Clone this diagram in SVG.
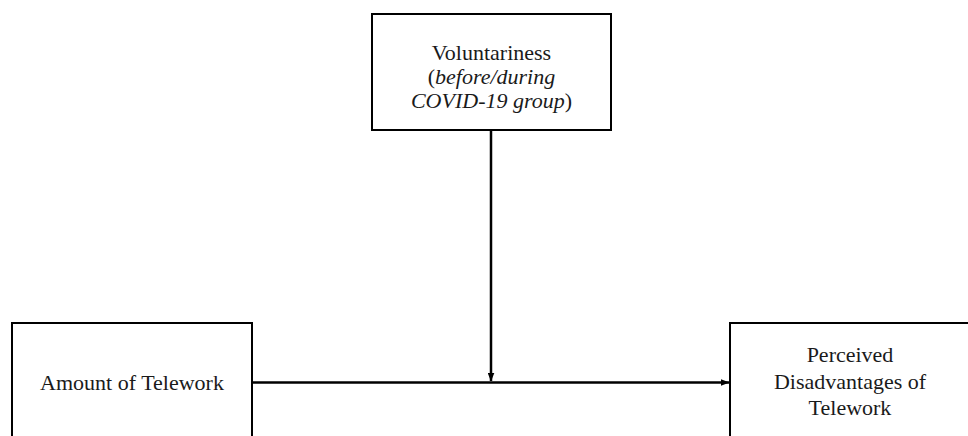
<svg xmlns="http://www.w3.org/2000/svg" width="968" height="436" viewBox="0 0 968 436">
<style>
.box{fill:#fff;stroke:#000;stroke-width:2}
.t{font-family:"Liberation Serif","Times New Roman",serif;font-size:22px;fill:#1a1a1a;text-anchor:middle}
.i{font-style:italic}
.c{stroke:#000;stroke-width:2.5;fill:none}
</style>
<defs>
<marker id="ah" markerWidth="9" markerHeight="7" refX="8.5" refY="3.5" orient="auto" markerUnits="userSpaceOnUse">
<path d="M0,0 L9,3.5 L0,7 Z" fill="#000"/>
</marker>
</defs>
<rect width="968" height="436" fill="#fff"/>
<g id="node-voluntariness">
<rect class="box" x="372" y="14" width="239" height="116"/>
<text class="t" x="491.5" y="60">Voluntariness</text>
<text class="t" x="491.5" y="84">(<tspan class="i">before/during</tspan></text>
<text class="t" x="491.5" y="108"><tspan class="i">COVID-19 group</tspan>)</text>
</g>
<g id="node-amount">
<rect class="box" x="12" y="323" width="240" height="130"/>
<text class="t" x="132" y="390">Amount of Telework</text>
</g>
<g id="node-disadvantages">
<rect class="box" x="730" y="323" width="260" height="130"/>
<text class="t" x="850" y="362">Perceived</text>
<text class="t" x="850" y="389">Disadvantages of</text>
<text class="t" x="850" y="415">Telework</text>
</g>
<g id="connectors">
<line class="c" x1="252" y1="382.5" x2="729" y2="382.5" marker-end="url(#ah)"/>
<line class="c" x1="491" y1="130" x2="491" y2="381" marker-end="url(#ah)"/>
</g>
</svg>
